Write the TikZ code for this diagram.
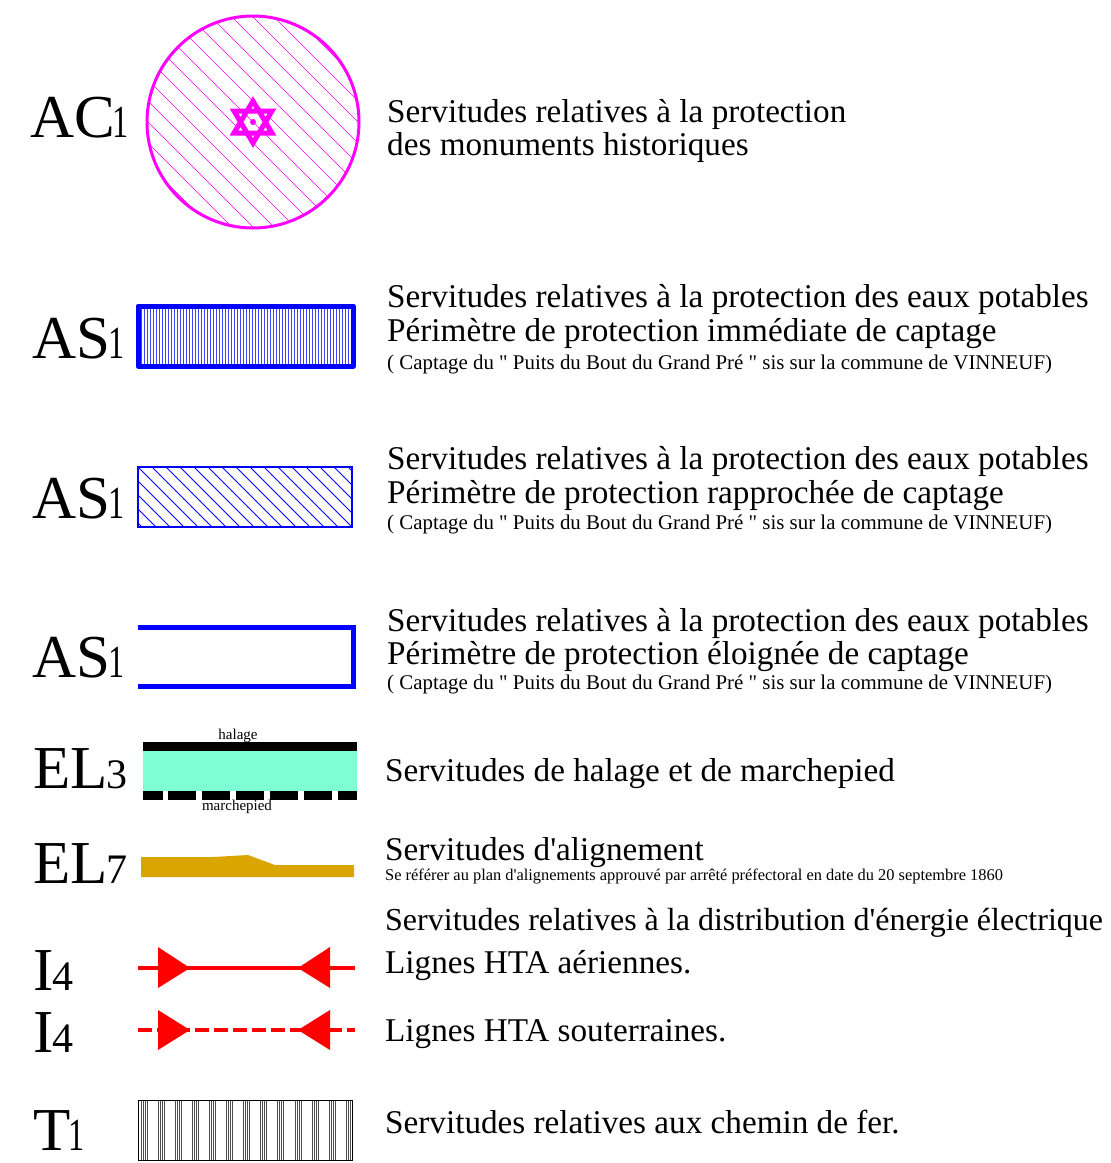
\documentclass[tikz,border=0pt]{standalone}
\usepackage{fontspec}
\setmainfont{Liberation Serif}
\newfontfamily\narrowserif[FakeStretch=0.7]{Liberation Serif}

\definecolor{servpink}{RGB}{255,0,255}
\definecolor{servblue}{RGB}{0,0,255}
\definecolor{servaqua}{RGB}{127,255,212}
\definecolor{servgold}{RGB}{219,165,0}
\definecolor{servred}{RGB}{255,0,0}

\tikzset{
	codelabel/.style={anchor=base west, inner sep=0pt},
	bigtext/.style={anchor=base west, inner sep=0pt, font=\fontsize{33.2}{33}\selectfont},
	smalltext/.style={anchor=base west, inner sep=0pt, font=\fontsize{20.9}{21}\selectfont},
	tinytext/.style={inner sep=0pt, font=\fontsize{15}{15}\selectfont},
	hatch/.style={line width=0.8pt},
	thickblue/.style={draw=servblue, line width=5pt},
	htaline/.style={draw=servred, line width=4pt},
	htahead/.style={fill=servred, draw=none}
}

\newcommand{\servcode}[2]{\fontsize{61}{61}\selectfont #1\kern-1pt\fontsize{42}{42}\selectfont #2}
\newcommand{\servcodeone}[1]{\fontsize{61}{61}\selectfont #1\kern-2pt\narrowserif\fontsize{46}{46}\selectfont 1}
\newcommand{\captage}{( Captage du \textquotedbl{} Puits du Bout du Grand Pré \textquotedbl{} sis sur la commune de VINNEUF)}

\begin{document}
\begin{tikzpicture}[x=1pt, y=-1pt]
	\useasboundingbox (0,0) rectangle (1111,1163);

	% AC1
	\node [codelabel] (ac) at (30, 137) {\servcodeone{AC}};

	\begin{scope}
		\clip (253, 122) circle [radius=106pt];
		\foreach \k in {-11,...,11}
			\draw
				[servpink, line width=0.7pt] (253+21*\k-150, 122-150) -- (253+21*\k+150, 122+150);
	\end{scope}

	\draw
		[servpink, line width=3pt] (253, 122) circle [radius=106pt];

	\draw
		[servpink, line width=5pt, fill=white, line join=miter]
		(253, 101) -- (272, 133) -- (234, 133) -- cycle
		(253, 143) -- (272, 111) -- (234, 111) -- cycle;

	\fill
		[servpink] (253, 122) circle [radius=3pt];

	\node [bigtext] (actxt) at (387, 122) {Servitudes relatives à la protection};
	\node [bigtext] (actxtb) at (387, 155) {des monuments historiques};

	% AS1 immediate
	\node [codelabel] (asa) at (32, 358) {\servcodeone{AS}};

	\foreach \x in {141,144,...,351}
		\draw
			[servblue!75, hatch] (\x, 307) -- (\x, 365);

	\draw
		[thickblue, line join=round] (138, 306) rectangle (353, 366);

	\node [bigtext] (asatxt) at (387, 307) {Servitudes relatives à la protection des eaux potables};
	\node [bigtext] (asatxtb) at (387, 341) {Périmètre de protection immédiate de captage};
	\node [smalltext] (asatxtc) at (387, 369) {\captage};

	% AS1 rapprochee
	\node [codelabel] (asb) at (32, 518) {\servcodeone{AS}};

	\begin{scope}
		\clip (138, 467) rectangle (352, 527);
		\foreach \k in {0,...,20}
			\draw
				[servblue, hatch] (138+14*\k-70, 467) -- (138+14*\k, 537);
	\end{scope}

	\draw
		[servblue, line width=2pt] (138, 467) rectangle (352, 527);

	\node [bigtext] (asbtxt) at (387, 469) {Servitudes relatives à la protection des eaux potables};
	\node [bigtext] (asbtxtb) at (387, 503) {Périmètre de protection rapprochée de captage};
	\node [smalltext] (asbtxtc) at (387, 529) {\captage};

	% AS1 eloignee
	\node [codelabel] (asc) at (32, 677) {\servcodeone{AS}};

	\draw
		[thickblue] (138, 627) -- (353, 627) -- (353, 686) -- (138, 686);

	\node [bigtext] (asctxt) at (387, 631) {Servitudes relatives à la protection des eaux potables};
	\node [bigtext] (asctxtb) at (387, 664) {Périmètre de protection éloignée de captage};
	\node [smalltext] (asctxtc) at (387, 689) {\captage};

	% EL3
	\node [codelabel] (ela) at (33, 788) {\servcode{EL}{3}};

	\fill
		[servaqua] (143, 751) rectangle (357, 791);

	\fill
		[black] (143, 742) rectangle (357, 751);

	\fill
		[black] (143, 791) rectangle (163, 800);

	\foreach \x in {168,202,...,304}
		\fill
			[black] (\x, 791) rectangle (\x+28, 800);

	\fill
		[black] (338, 791) rectangle (357, 800);

	\node [tinytext, anchor=base] (halage) at (238, 739) {halage};
	\node [tinytext, anchor=base] (marche) at (237, 810) {marchepied};

	\node [bigtext] (elatxt) at (385, 781) {Servitudes de halage et de marchepied};

	% EL7
	\node [codelabel] (elb) at (33, 883) {\servcode{EL}{7}};

	\fill
		[servgold] (141, 857) -- (213, 857) -- (248, 855) -- (275, 865)
		-- (354, 865) -- (354, 877) -- (141, 877) -- cycle;

	\node [bigtext] (elbtxt) at (385, 860) {Servitudes d\textquotesingle alignement};
	\node [anchor=base west, inner sep=0pt, font=\fontsize{16.4}{16}\selectfont] (elbtxtb) at (385, 880)
		{Se référer au plan d\textquotesingle alignements approuvé par arrêté préfectoral en date du 20 septembre 1860};

	% I4
	\node [bigtext, font=\fontsize{32}{32}\selectfont] (itxt) at (385, 930)
		{Servitudes relatives à la distribution d\textquotesingle énergie électrique};

	\node [codelabel] (ia) at (33, 990) {\servcode{I}{4}};

	\draw
		[htaline] (138, 968) -- (355, 968);

	\fill
		[htahead] (158, 947) -- (190, 968) -- (158, 988) -- cycle;

	\fill
		[htahead] (330, 947) -- (298, 968) -- (330, 988) -- cycle;

	\node [bigtext] (iatxt) at (385, 973) {Lignes HTA aériennes.};

	\node [codelabel] (ib) at (33, 1052) {\servcode{I}{4}};

	\draw
		[htaline, dash pattern=on 14pt off 5pt] (138, 1030) -- (355, 1030);

	\fill
		[htahead] (158, 1010) -- (190, 1030) -- (158, 1050) -- cycle;

	\fill
		[htahead] (330, 1010) -- (298, 1030) -- (330, 1050) -- cycle;

	\node [bigtext] (ibtxt) at (385, 1041) {Lignes HTA souterraines.};

	% T1
	\node [codelabel] (ta) at (33, 1150) {\servcodeone{T}};

	\foreach \g in {0,...,12}
		\foreach \d in {0,2,4,6}
			\draw
				[black!70, line width=0.7pt] (141+17.1*\g+\d, 1100) -- (141+17.1*\g+\d, 1160);

	\draw
		[line width=1pt] (138, 1100) rectangle (352, 1160);

	\node [bigtext] (tatxt) at (385, 1133) {Servitudes relatives aux chemin de fer.};
\end{tikzpicture}
\end{document}
